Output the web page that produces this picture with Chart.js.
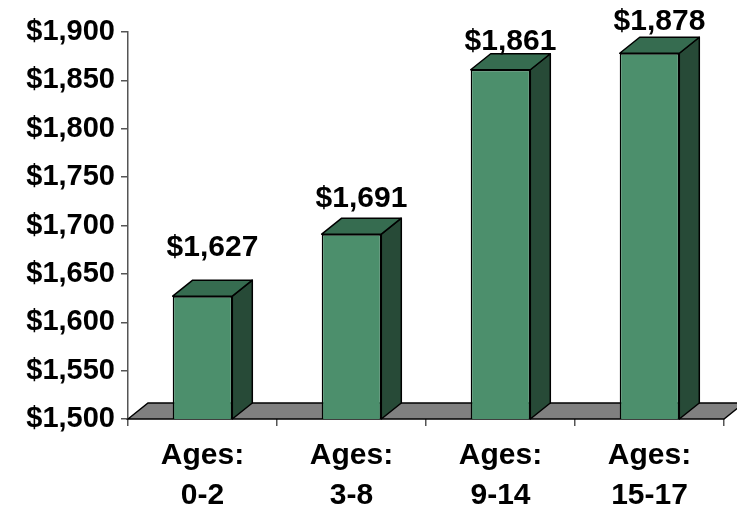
<!DOCTYPE html>
<html>
<head>
<meta charset="utf-8">
<script src="https://cdn.jsdelivr.net/npm/chart.js@4/dist/chart.umd.min.js"></script>
<style>
	html, body { margin: 0; padding: 0; background: #fff; }
	#wrap { width: 737px; height: 512px; }
</style>
</head>
<body>
<div id="wrap"><canvas id="myChart" width="737" height="512"></canvas></div>
<script>
// monthly cost by age group
const ageGroups = [['Ages:', '0-2'], ['Ages:', '3-8'], ['Ages:', '9-14'], ['Ages:', '15-17']];
const costs = [1627, 1691, 1861, 1878];
const yTicks = [1500, 1550, 1600, 1650, 1700, 1750, 1800, 1850, 1900];

// label lift above each bar top, px
const labelLift = [48, 35, 28, 32];

const DEPTH_X = 20;
const DEPTH_Y = 16;
const FONT = '"Liberation Sans", Arial, sans-serif';

const money = v => '$' + Number(v).toLocaleString('en-US');

function poly(ctx, pts, fill) {
	ctx.beginPath();
	ctx.moveTo(pts[0][0], pts[0][1]);
	for (let i = 1; i < pts.length; i++) ctx.lineTo(pts[i][0], pts[i][1]);
	ctx.closePath();
	ctx.fillStyle = fill;
	ctx.fill();
	ctx.stroke();
}

// grey floor under the bars
const floor3d = {
	id: 'floor3d',
	beforeDatasetsDraw(chart) {
		const { ctx, chartArea: a } = chart;
		ctx.save();
		ctx.strokeStyle = '#000';
		ctx.lineWidth = 1.5;
		poly(ctx, [
			[a.left, a.bottom],
			[a.left + DEPTH_X, a.bottom - DEPTH_Y],
			[a.right + DEPTH_X, a.bottom - DEPTH_Y],
			[a.right, a.bottom]
		], '#808080');
		ctx.restore();
	}
};

// side + top faces and value labels
const bars3d = {
	id: 'bars3d',
	afterDatasetsDraw(chart) {
		const { ctx, chartArea } = chart;
		const meta = chart.getDatasetMeta(0);
		ctx.save();
		ctx.strokeStyle = '#000';
		ctx.lineWidth = 1.5;
		ctx.lineJoin = 'round';
		meta.data.forEach((bar, i) => {
			const { x, y, base, width } = bar.getProps(['x', 'y', 'base', 'width'], true);
			const b = Math.min(base, chartArea.bottom);
			const l = x - width / 2, r = x + width / 2;
			poly(ctx, [[r, y], [r + DEPTH_X, y - DEPTH_Y], [r + DEPTH_X, b - DEPTH_Y], [r, b]], '#274a37');
			poly(ctx, [[l, y], [l + DEPTH_X, y - DEPTH_Y], [r + DEPTH_X, y - DEPTH_Y], [r, y]], '#366c50');

			ctx.fillStyle = '#000';
			ctx.font = 'bold 30px ' + FONT;
			ctx.textAlign = 'center';
			ctx.textBaseline = 'middle';
			ctx.fillText(money(costs[i]), x + DEPTH_X / 2, y - labelLift[i]);
		});
		ctx.restore();
	}
};

const ctx = document.getElementById('myChart').getContext('2d');

const config = {
	type: 'bar',
	data: {
		labels: ageGroups,
		datasets: [{
			data: costs,
			backgroundColor: '#4c8f6c',
			borderColor: '#000',
			borderWidth: 1.5,
			barPercentage: 0.4,
			categoryPercentage: 1
		}]
	},
	options: {
		responsive: false,
		animation: false,
		layout: { padding: { top: 32, right: 13, left: 0, bottom: 0 } },
		plugins: {
			legend: { display: false },
			tooltip: { enabled: false }
		},
		scales: {
			x: {
				grid: { drawOnChartArea: false, tickLength: 7, color: '#555', lineWidth: 1.5 },
				border: { display: false },
				ticks: {
					color: '#000',
					padding: 9,
					font: { family: FONT, size: 30, weight: 'bold', lineHeight: 1.35 },
					maxRotation: 0
				},
				afterFit(scale) { scale.height = 93; }
			},
			y: {
				min: yTicks[0],
				max: yTicks[yTicks.length - 1],
				afterBuildTicks(scale) { scale.ticks = yTicks.map(v => ({ value: v })); },
				grid: { drawOnChartArea: false, tickLength: 7, color: '#555', lineWidth: 1.5 },
				border: { display: true, color: '#555', width: 1.5 },
				ticks: {
					color: '#000',
					padding: 6,
					font: { family: FONT, size: 29, weight: 'bold' },
					callback: v => money(v)
				},
				afterFit(scale) { scale.width = 128; }
			}
		}
	},
	plugins: [floor3d, bars3d]
};

const myChart = new Chart(ctx, config);
</script>
</body>
</html>
